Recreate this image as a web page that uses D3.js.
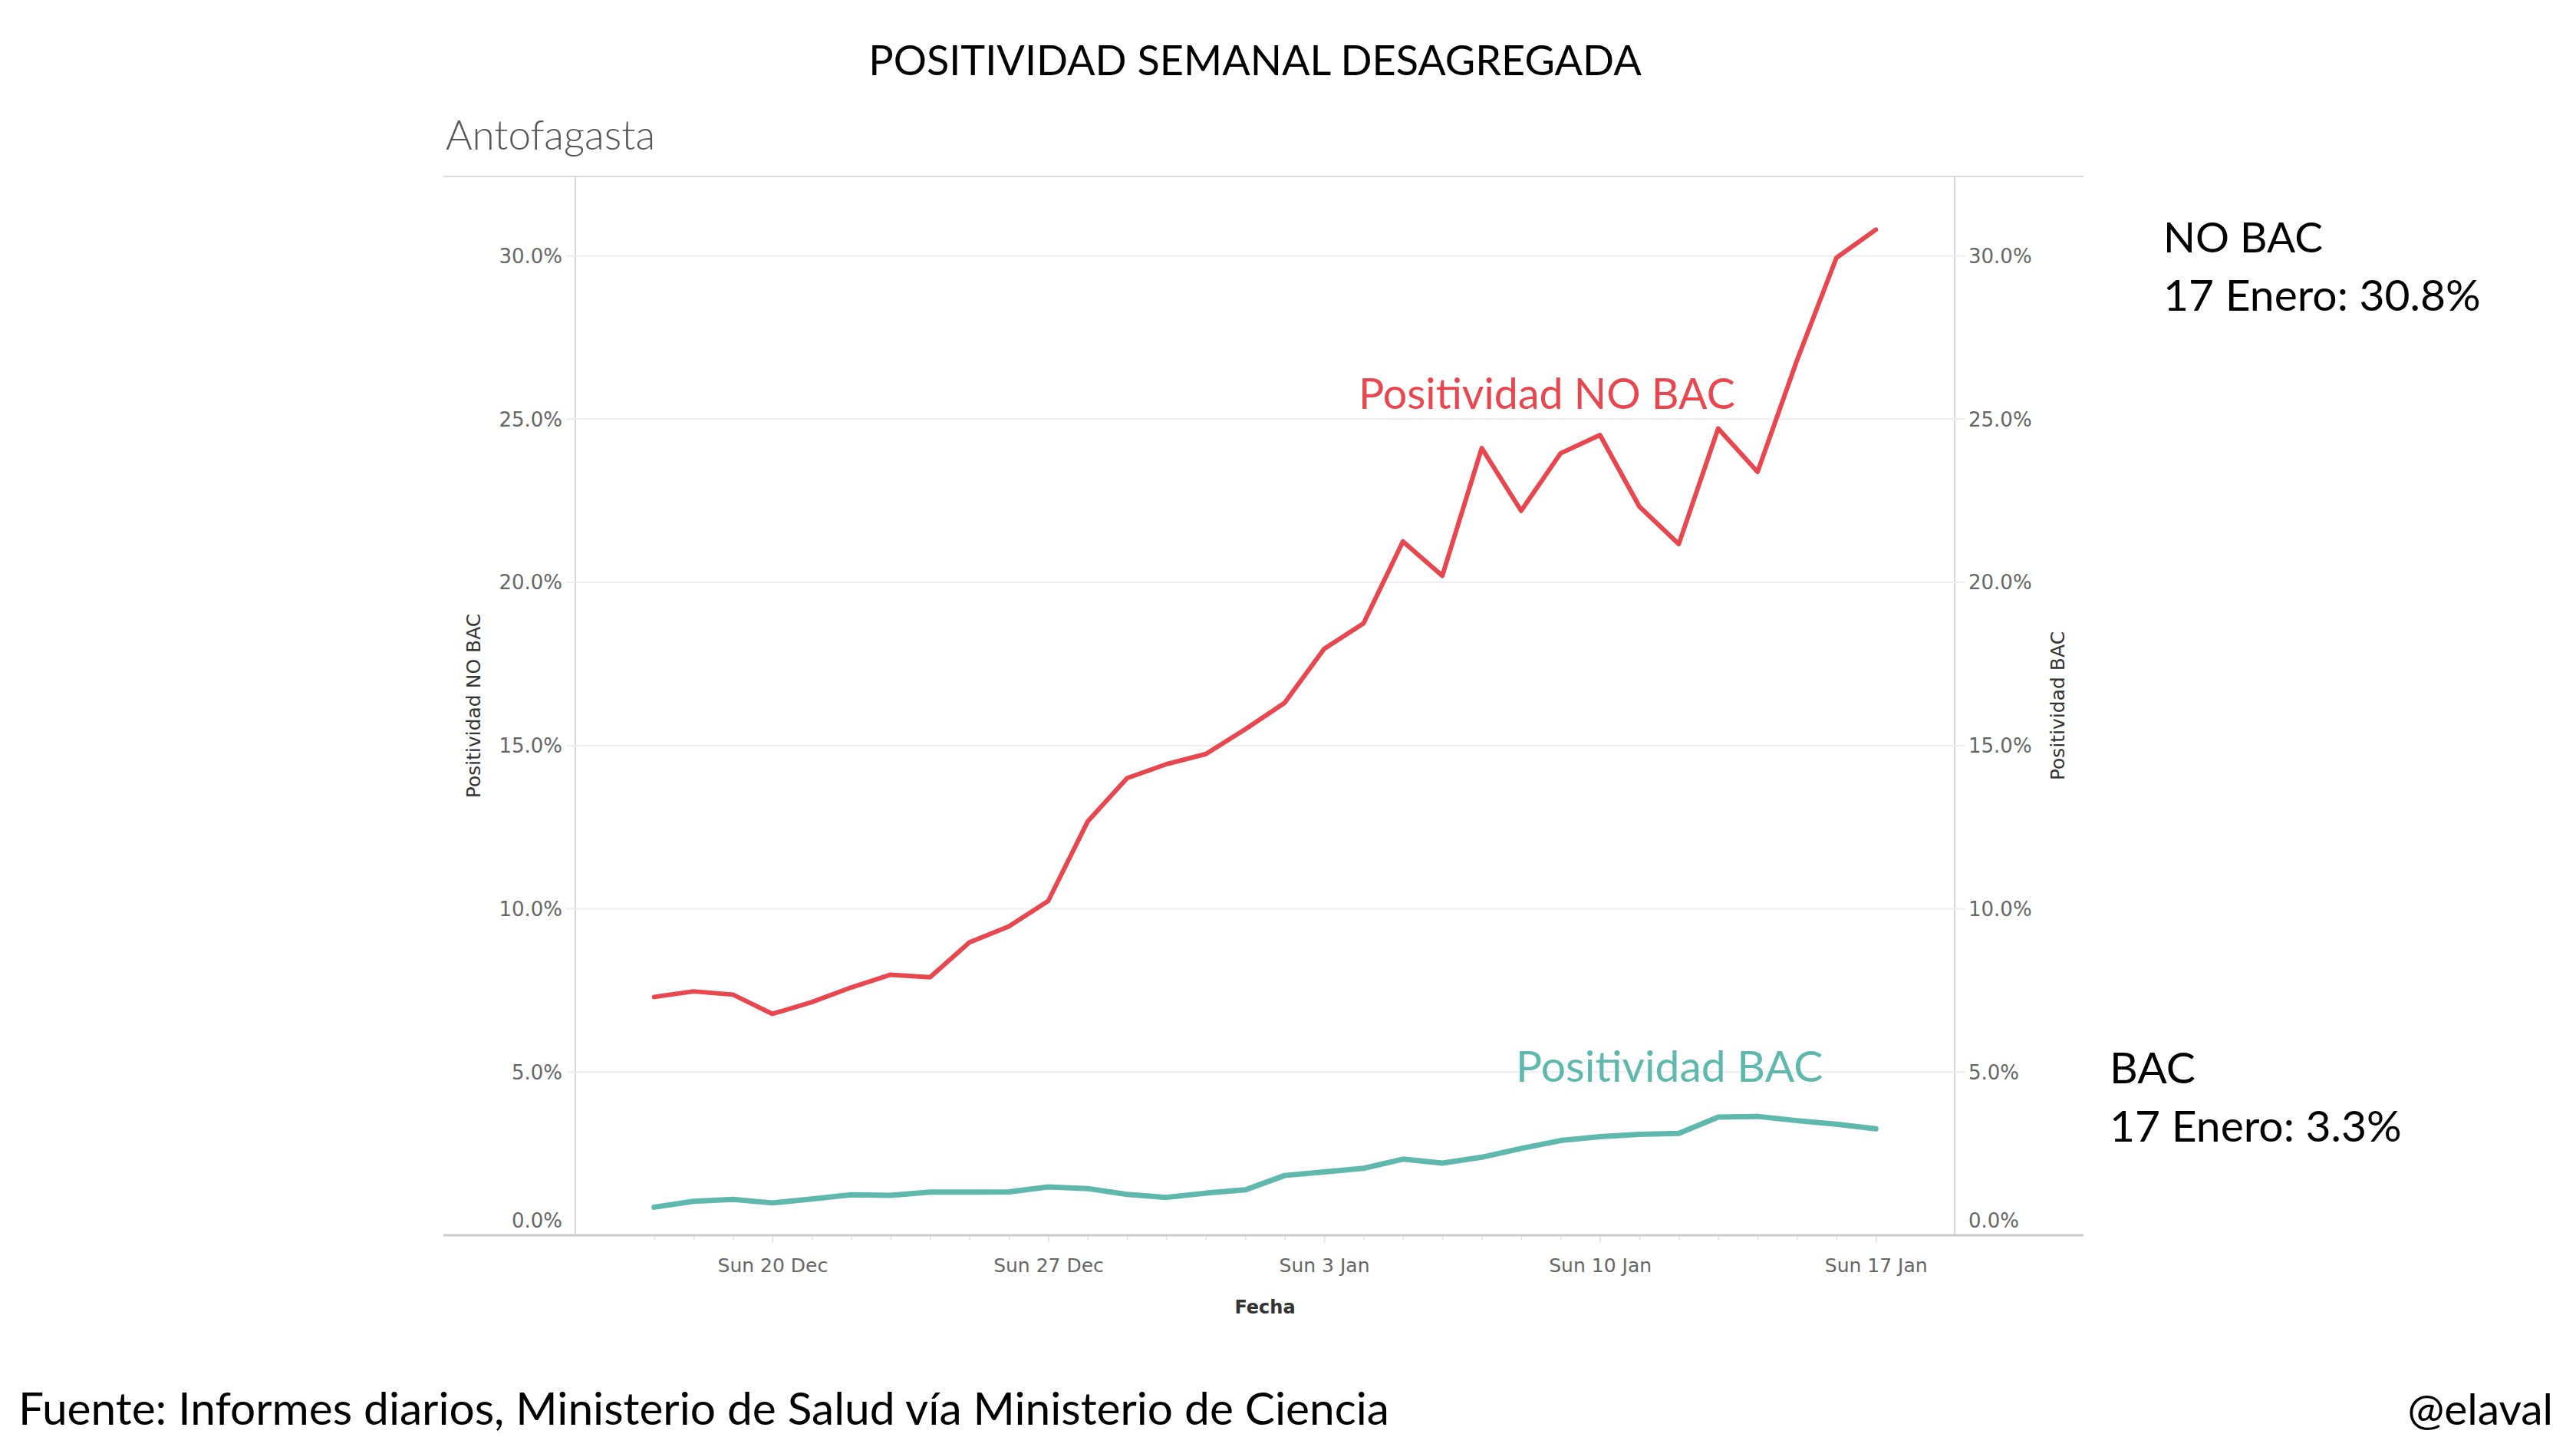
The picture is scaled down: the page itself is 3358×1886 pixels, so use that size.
<!DOCTYPE html>
<html>
<head>
<meta charset="utf-8">
<script src="https://cdn.jsdelivr.net/npm/d3@7"></script>
<style>
  body { margin: 0; background: #fff; }
  svg { display: block; }
</style>
</head>
<body>
<div id="chart"></div>
<script>
const WIDTH = 3358;
const HEIGHT = 1886;

// plot box
const plot = {left: 750, right: 2548, top: 230, bottom: 1610};

// data
const fechas = [
  '2020-12-17', '2020-12-18', '2020-12-19', '2020-12-20', '2020-12-21', '2020-12-22',
  '2020-12-23', '2020-12-24', '2020-12-25', '2020-12-26', '2020-12-27', '2020-12-28',
  '2020-12-29', '2020-12-30', '2020-12-31', '2021-01-01', '2021-01-02', '2021-01-03',
  '2021-01-04', '2021-01-05', '2021-01-06', '2021-01-07', '2021-01-08', '2021-01-09',
  '2021-01-10', '2021-01-11', '2021-01-12', '2021-01-13', '2021-01-14', '2021-01-15',
  '2021-01-16', '2021-01-17'
];
const positividadNoBac = [
  7.30, 7.47, 7.37, 6.78, 7.14, 7.59, 7.98, 7.90, 8.97, 9.46, 10.24, 12.67,
  14.00, 14.43, 14.74, 15.50, 16.31, 17.96, 18.74, 21.25, 20.20, 24.11, 22.19, 23.95,
  24.51, 22.32, 21.17, 24.71, 23.38, 26.80, 29.94, 30.80
];
const positividadBac = [
  0.86, 1.04, 1.10, 0.99, 1.11, 1.24, 1.22, 1.32, 1.32, 1.33, 1.48, 1.43,
  1.25, 1.16, 1.29, 1.39, 1.83, 1.94, 2.05, 2.33, 2.21, 2.39, 2.66, 2.90,
  3.02, 3.09, 3.12, 3.62, 3.64, 3.51, 3.40, 3.26
];
const yTicks = [0, 5, 10, 15, 20, 25, 30];
const xTicks = ['2020-12-20', '2020-12-27', '2021-01-03', '2021-01-10', '2021-01-17'];

const parse = d3.timeParse('%Y-%m-%d');
const dias = fechas.map(parse);

const ROJO = '#e9474f';
const VERDE = '#5fb8ae';
const CALIBRI = 'Lato, "Open Sans", sans-serif';
const TABLEAU = '"DejaVu Sans", sans-serif';

const svg = d3.select('#chart')
  .append('svg')
    .attr('width', WIDTH)
    .attr('height', HEIGHT);

svg.append('rect').attr('width', WIDTH).attr('height', HEIGHT).attr('fill', '#fff');

const x = d3.scaleTime()
  .domain([d3.timeDay.offset(dias[0], -2), d3.timeDay.offset(dias[dias.length - 1], 2)])
  .range([plot.left, plot.right]);

const y = d3.scaleLinear()
  .domain([0, 32.43])
  .range([plot.bottom, plot.top]);

// frame
svg.append('line')
  .attr('x1', 578).attr('x2', 2716)
  .attr('y1', plot.top).attr('y2', plot.top)
  .attr('stroke', '#dcdcdc').attr('stroke-width', 2);

[plot.left, plot.right].forEach(px => {
  svg.append('line')
    .attr('x1', px).attr('x2', px)
    .attr('y1', plot.top).attr('y2', plot.bottom)
    .attr('stroke', '#d6d6d6').attr('stroke-width', 2);
});

// grid
svg.append('g')
  .selectAll('line')
  .data(yTicks.filter(d => d > 0))
  .join('line')
    .attr('x1', plot.left - 12).attr('x2', plot.right + 14)
    .attr('y1', d => y(d)).attr('y2', d => y(d))
    .attr('stroke', '#eeeeee').attr('stroke-width', 2);

// left axis labels
const fmtPct = d => d3.format('.1f')(d) + '%';

svg.append('g')
  .selectAll('text')
  .data(yTicks)
  .join('text')
    .attr('x', 733)
    .attr('y', d => d === 0 ? y(d) - 19 : y(d))
    .attr('dy', '0.36em')
    .attr('text-anchor', 'end')
    .style('font-family', TABLEAU)
    .style('font-size', '26px')
    .style('fill', '#666')
    .text(fmtPct);

// right axis labels
svg.append('g')
  .selectAll('text')
  .data(yTicks)
  .join('text')
    .attr('x', 2566)
    .attr('y', d => d === 0 ? y(d) - 19 : y(d))
    .attr('dy', '0.36em')
    .attr('text-anchor', 'start')
    .style('font-family', TABLEAU)
    .style('font-size', '26px')
    .style('fill', '#666')
    .text(fmtPct);

// x axis: daily minor ticks
const minor = svg.append('g')
  .attr('transform', `translate(0,${plot.bottom})`)
  .call(d3.axisBottom(x).tickValues(dias).tickSize(6).tickFormat(''));
minor.select('.domain').remove();
minor.selectAll('line').attr('stroke', '#e2e2e2').attr('stroke-width', 1.5);

const xAxis = d3.axisBottom(x)
  .tickValues(xTicks.map(parse))
  .tickSize(10)
  .tickPadding(20)
  .tickFormat(d3.timeFormat('%a %-d %b'));

const axis = svg.append('g')
  .attr('class', 'axis axis--x')
  .attr('transform', `translate(0,${plot.bottom})`)
  .call(xAxis);
axis.select('.domain').remove();
axis.selectAll('line').attr('stroke', '#e2e2e2').attr('stroke-width', 1.5);
axis.selectAll('text')
  .style('font-family', TABLEAU)
  .style('font-size', '25px')
  .style('fill', '#666');

// bottom axis line
svg.append('line')
  .attr('x1', 578).attr('x2', 2716)
  .attr('y1', plot.bottom).attr('y2', plot.bottom)
  .attr('stroke', '#cccccc').attr('stroke-width', 3);

// axis titles
svg.append('text')
  .attr('x', (plot.left + plot.right) / 2)
  .attr('y', 1712)
  .attr('text-anchor', 'middle')
  .style('font-family', TABLEAU)
  .style('font-size', '24px')
  .style('font-weight', 'bold')
  .style('fill', '#333')
  .text('Fecha');

svg.append('text')
  .attr('transform', 'translate(617,920) rotate(-90)')
  .attr('text-anchor', 'middle')
  .attr('dy', '0.36em')
  .style('font-family', TABLEAU)
  .style('font-size', '25px')
  .style('fill', '#333')
  .text('Positividad NO BAC');

svg.append('text')
  .attr('transform', 'translate(2682,920) rotate(-90)')
  .attr('text-anchor', 'middle')
  .attr('dy', '0.36em')
  .style('font-family', TABLEAU)
  .style('font-size', '25px')
  .style('fill', '#333')
  .text('Positividad  BAC');

// lines
const linea = serie => d3.line()
  .x((d, i) => x(dias[i]))
  .y(d => y(d))(serie);

svg.append('path')
  .attr('d', linea(positividadBac))
  .attr('fill', 'none')
  .attr('stroke', VERDE)
  .attr('stroke-width', 7)
  .attr('stroke-linejoin', 'round')
  .attr('stroke-linecap', 'round');

svg.append('path')
  .attr('d', linea(positividadNoBac))
  .attr('fill', 'none')
  .attr('stroke', ROJO)
  .attr('stroke-width', 6)
  .attr('stroke-linejoin', 'round')
  .attr('stroke-linecap', 'round');

// texts
const texto = (tx, ty, str, opts = {}) => svg.append('text')
  .attr('x', tx)
  .attr('y', ty)
  .attr('text-anchor', opts.anchor || 'start')
  .style('font-family', opts.font || CALIBRI)
  .style('font-size', (opts.size || 57) + 'px')
  .style('font-weight', opts.weight || 'normal')
  .style('fill', opts.color || '#000')
  .text(str);

texto(1636, 98, 'POSITIVIDAD SEMANAL DESAGREGADA', {anchor: 'middle', size: 54});
texto(581, 195, 'Antofagasta', {size: 53, weight: 300, color: '#555'});

texto(1771, 533, 'Positividad NO BAC', {color: ROJO, size: 55.5});
texto(1976, 1410, 'Positividad BAC', {color: VERDE});

texto(2820, 329, 'NO BAC', {size: 55});
texto(2820, 405, '17 Enero: ' + positividadNoBac[positividadNoBac.length - 1].toFixed(1) + '%');
texto(2750, 1412, 'BAC');
texto(2750, 1488, '17 Enero: ' + positividadBac[positividadBac.length - 1].toFixed(1) + '%');

texto(24, 1857, 'Fuente: Informes diarios, Ministerio de Salud vía Ministerio de Ciencia', {size: 58.6});
texto(3328, 1857, '@elaval', {anchor: 'end'});
</script>
</body>
</html>
